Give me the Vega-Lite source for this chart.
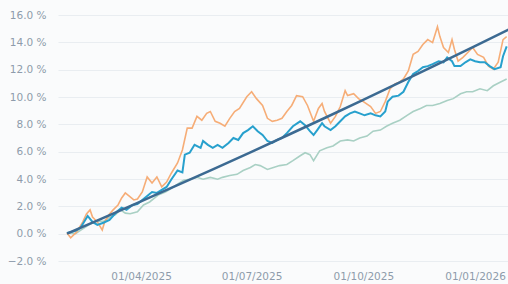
{
  "$schema": "https://vega.github.io/schema/vega-lite/v6.json",
  "width": 450,
  "height": 246,
  "autosize": {"type": "none"},
  "padding": {"left": 58, "top": 15, "right": 0, "bottom": 23},
  "background": "#fafbfc",
  "config": {
    "view": {"stroke": null},
    "axis": {
      "labelFont": "DejaVu Sans",
      "labelFontSize": 10.5,
      "labelColor": "#8e9bab",
      "domain": false,
      "ticks": false,
      "tickSize": 0,
      "title": null
    }
  },
  "datasets": {
    "target": [
      {"date": "2025-01-30", "v": 0},
      {"date": "2025-02-28", "v": 1.12},
      {"date": "2025-03-31", "v": 2.33},
      {"date": "2025-04-30", "v": 3.51},
      {"date": "2025-05-31", "v": 4.74},
      {"date": "2025-06-30", "v": 5.95},
      {"date": "2025-07-31", "v": 7.22},
      {"date": "2025-08-31", "v": 8.5},
      {"date": "2025-09-30", "v": 9.75},
      {"date": "2025-10-31", "v": 11.07},
      {"date": "2025-11-30", "v": 12.35},
      {"date": "2025-12-31", "v": 13.69},
      {"date": "2026-01-30", "v": 15.0}
    ],
    "orange": [
      {"date": "2025-01-30", "v": 0.05},
      {"date": "2025-02-02", "v": -0.3},
      {"date": "2025-02-07", "v": 0.13},
      {"date": "2025-02-12", "v": 0.86},
      {"date": "2025-02-15", "v": 1.44},
      {"date": "2025-02-18", "v": 1.74},
      {"date": "2025-02-20", "v": 1.22},
      {"date": "2025-02-24", "v": 0.86},
      {"date": "2025-02-28", "v": 0.27},
      {"date": "2025-03-02", "v": 0.86},
      {"date": "2025-03-06", "v": 1.44},
      {"date": "2025-03-09", "v": 1.74},
      {"date": "2025-03-13", "v": 2.1},
      {"date": "2025-03-16", "v": 2.61},
      {"date": "2025-03-19", "v": 2.98},
      {"date": "2025-03-23", "v": 2.69},
      {"date": "2025-03-26", "v": 2.47},
      {"date": "2025-03-29", "v": 2.54},
      {"date": "2025-04-02", "v": 3.05},
      {"date": "2025-04-06", "v": 4.15},
      {"date": "2025-04-10", "v": 3.71},
      {"date": "2025-04-14", "v": 4.15},
      {"date": "2025-04-18", "v": 3.42},
      {"date": "2025-04-22", "v": 3.78},
      {"date": "2025-04-26", "v": 4.44},
      {"date": "2025-05-01", "v": 5.17},
      {"date": "2025-05-05", "v": 6.12},
      {"date": "2025-05-09", "v": 7.72},
      {"date": "2025-05-13", "v": 7.72},
      {"date": "2025-05-17", "v": 8.58},
      {"date": "2025-05-21", "v": 8.3},
      {"date": "2025-05-25", "v": 8.8},
      {"date": "2025-05-28", "v": 8.94},
      {"date": "2025-06-01", "v": 8.22},
      {"date": "2025-06-05", "v": 8.08},
      {"date": "2025-06-09", "v": 7.86},
      {"date": "2025-06-13", "v": 8.44},
      {"date": "2025-06-17", "v": 8.94},
      {"date": "2025-06-21", "v": 9.16},
      {"date": "2025-06-27", "v": 10.02},
      {"date": "2025-07-01", "v": 10.38},
      {"date": "2025-07-05", "v": 9.88},
      {"date": "2025-07-10", "v": 9.38},
      {"date": "2025-07-14", "v": 8.44},
      {"date": "2025-07-18", "v": 8.22},
      {"date": "2025-07-22", "v": 8.3},
      {"date": "2025-07-26", "v": 8.44},
      {"date": "2025-07-30", "v": 8.94},
      {"date": "2025-08-03", "v": 9.38},
      {"date": "2025-08-07", "v": 10.1},
      {"date": "2025-08-12", "v": 10.02},
      {"date": "2025-08-16", "v": 9.38},
      {"date": "2025-08-21", "v": 8.22},
      {"date": "2025-08-25", "v": 9.16},
      {"date": "2025-08-28", "v": 9.52},
      {"date": "2025-08-30", "v": 8.94},
      {"date": "2025-09-04", "v": 8.08},
      {"date": "2025-09-08", "v": 8.58},
      {"date": "2025-09-12", "v": 9.3},
      {"date": "2025-09-16", "v": 10.46},
      {"date": "2025-09-18", "v": 10.1},
      {"date": "2025-09-23", "v": 10.24},
      {"date": "2025-09-27", "v": 9.88},
      {"date": "2025-10-01", "v": 9.66},
      {"date": "2025-10-07", "v": 9.3},
      {"date": "2025-10-11", "v": 8.8},
      {"date": "2025-10-15", "v": 8.94},
      {"date": "2025-10-19", "v": 9.66},
      {"date": "2025-10-23", "v": 10.6},
      {"date": "2025-10-27", "v": 10.96},
      {"date": "2025-10-31", "v": 11.1},
      {"date": "2025-11-03", "v": 11.32},
      {"date": "2025-11-07", "v": 11.9},
      {"date": "2025-11-11", "v": 13.12},
      {"date": "2025-11-15", "v": 13.34},
      {"date": "2025-11-19", "v": 13.84},
      {"date": "2025-11-23", "v": 14.2},
      {"date": "2025-11-27", "v": 13.98},
      {"date": "2025-12-01", "v": 15.14},
      {"date": "2025-12-03", "v": 14.42},
      {"date": "2025-12-06", "v": 13.62},
      {"date": "2025-12-10", "v": 13.26},
      {"date": "2025-12-13", "v": 14.2},
      {"date": "2025-12-15", "v": 13.48},
      {"date": "2025-12-18", "v": 12.62},
      {"date": "2025-12-22", "v": 12.9},
      {"date": "2025-12-26", "v": 13.26},
      {"date": "2025-12-30", "v": 13.62},
      {"date": "2026-01-03", "v": 13.12},
      {"date": "2026-01-08", "v": 12.9},
      {"date": "2026-01-12", "v": 12.26},
      {"date": "2026-01-16", "v": 12.04},
      {"date": "2026-01-20", "v": 12.54},
      {"date": "2026-01-24", "v": 14.2},
      {"date": "2026-01-27", "v": 14.42}
    ],
    "blue": [
      {"date": "2025-01-30", "v": 0.05},
      {"date": "2025-02-06", "v": 0.2},
      {"date": "2025-02-10", "v": 0.42},
      {"date": "2025-02-14", "v": 1.0},
      {"date": "2025-02-16", "v": 1.3},
      {"date": "2025-02-20", "v": 0.86},
      {"date": "2025-02-24", "v": 0.64},
      {"date": "2025-03-01", "v": 0.8},
      {"date": "2025-03-06", "v": 1.0},
      {"date": "2025-03-12", "v": 1.6},
      {"date": "2025-03-16", "v": 1.9},
      {"date": "2025-03-20", "v": 1.74},
      {"date": "2025-03-25", "v": 2.1},
      {"date": "2025-03-29", "v": 2.17},
      {"date": "2025-04-02", "v": 2.47},
      {"date": "2025-04-06", "v": 2.76},
      {"date": "2025-04-10", "v": 3.05},
      {"date": "2025-04-14", "v": 2.98},
      {"date": "2025-04-18", "v": 3.2},
      {"date": "2025-04-22", "v": 3.42},
      {"date": "2025-04-26", "v": 3.98},
      {"date": "2025-05-01", "v": 4.62},
      {"date": "2025-05-05", "v": 4.48},
      {"date": "2025-05-07", "v": 5.78},
      {"date": "2025-05-11", "v": 5.92},
      {"date": "2025-05-15", "v": 6.5},
      {"date": "2025-05-20", "v": 6.28},
      {"date": "2025-05-22", "v": 6.78},
      {"date": "2025-05-26", "v": 6.5},
      {"date": "2025-05-30", "v": 6.28},
      {"date": "2025-06-03", "v": 6.5},
      {"date": "2025-06-07", "v": 6.28},
      {"date": "2025-06-12", "v": 6.64},
      {"date": "2025-06-16", "v": 7.0},
      {"date": "2025-06-20", "v": 6.86},
      {"date": "2025-06-24", "v": 7.36},
      {"date": "2025-06-28", "v": 7.58},
      {"date": "2025-07-02", "v": 7.86},
      {"date": "2025-07-06", "v": 7.5},
      {"date": "2025-07-10", "v": 7.22},
      {"date": "2025-07-14", "v": 6.78},
      {"date": "2025-07-18", "v": 6.64},
      {"date": "2025-07-22", "v": 6.86},
      {"date": "2025-07-26", "v": 7.0},
      {"date": "2025-07-30", "v": 7.36},
      {"date": "2025-08-04", "v": 7.86},
      {"date": "2025-08-10", "v": 8.22},
      {"date": "2025-08-14", "v": 7.94},
      {"date": "2025-08-18", "v": 7.5},
      {"date": "2025-08-21", "v": 7.22},
      {"date": "2025-08-24", "v": 7.58},
      {"date": "2025-08-28", "v": 8.08},
      {"date": "2025-08-30", "v": 7.86},
      {"date": "2025-09-04", "v": 7.58},
      {"date": "2025-09-08", "v": 7.86},
      {"date": "2025-09-12", "v": 8.22},
      {"date": "2025-09-16", "v": 8.58},
      {"date": "2025-09-20", "v": 8.8},
      {"date": "2025-09-24", "v": 8.94},
      {"date": "2025-09-28", "v": 8.8},
      {"date": "2025-10-02", "v": 8.66},
      {"date": "2025-10-07", "v": 8.8},
      {"date": "2025-10-11", "v": 8.66},
      {"date": "2025-10-15", "v": 8.58},
      {"date": "2025-10-19", "v": 8.94},
      {"date": "2025-10-21", "v": 9.66},
      {"date": "2025-10-25", "v": 10.02},
      {"date": "2025-10-30", "v": 10.1},
      {"date": "2025-11-03", "v": 10.38},
      {"date": "2025-11-07", "v": 11.1},
      {"date": "2025-11-11", "v": 11.68},
      {"date": "2025-11-15", "v": 11.9},
      {"date": "2025-11-19", "v": 12.18},
      {"date": "2025-11-23", "v": 12.26},
      {"date": "2025-11-27", "v": 12.4},
      {"date": "2025-12-02", "v": 12.62},
      {"date": "2025-12-06", "v": 12.54},
      {"date": "2025-12-09", "v": 12.9},
      {"date": "2025-12-13", "v": 12.62},
      {"date": "2025-12-15", "v": 12.26},
      {"date": "2025-12-20", "v": 12.26},
      {"date": "2025-12-24", "v": 12.54},
      {"date": "2025-12-28", "v": 12.76},
      {"date": "2026-01-01", "v": 12.62},
      {"date": "2026-01-05", "v": 12.54},
      {"date": "2026-01-09", "v": 12.54},
      {"date": "2026-01-13", "v": 12.26},
      {"date": "2026-01-17", "v": 12.04},
      {"date": "2026-01-22", "v": 12.18},
      {"date": "2026-01-24", "v": 12.98},
      {"date": "2026-01-27", "v": 13.7}
    ],
    "green": [
      {"date": "2025-01-30", "v": 0.05},
      {"date": "2025-02-06", "v": 0.0},
      {"date": "2025-02-11", "v": 0.3},
      {"date": "2025-02-18", "v": 0.7},
      {"date": "2025-02-24", "v": 0.9},
      {"date": "2025-03-01", "v": 0.9},
      {"date": "2025-03-06", "v": 1.2},
      {"date": "2025-03-11", "v": 1.4},
      {"date": "2025-03-15", "v": 1.74},
      {"date": "2025-03-19", "v": 1.5},
      {"date": "2025-03-23", "v": 1.46},
      {"date": "2025-03-29", "v": 1.6},
      {"date": "2025-04-03", "v": 2.1},
      {"date": "2025-04-08", "v": 2.32},
      {"date": "2025-04-15", "v": 2.82},
      {"date": "2025-04-21", "v": 3.04},
      {"date": "2025-04-25", "v": 3.26},
      {"date": "2025-05-01", "v": 3.62},
      {"date": "2025-05-06", "v": 3.9},
      {"date": "2025-05-11", "v": 3.98},
      {"date": "2025-05-17", "v": 4.12},
      {"date": "2025-05-22", "v": 3.98},
      {"date": "2025-05-28", "v": 4.12},
      {"date": "2025-06-03", "v": 3.98},
      {"date": "2025-06-07", "v": 4.12},
      {"date": "2025-06-13", "v": 4.26},
      {"date": "2025-06-19", "v": 4.34},
      {"date": "2025-06-24", "v": 4.62},
      {"date": "2025-06-30", "v": 4.84},
      {"date": "2025-07-04", "v": 5.06},
      {"date": "2025-07-08", "v": 4.98},
      {"date": "2025-07-14", "v": 4.7},
      {"date": "2025-07-19", "v": 4.84},
      {"date": "2025-07-24", "v": 4.98},
      {"date": "2025-07-30", "v": 5.06},
      {"date": "2025-08-04", "v": 5.34},
      {"date": "2025-08-10", "v": 5.7},
      {"date": "2025-08-14", "v": 5.92},
      {"date": "2025-08-18", "v": 5.78},
      {"date": "2025-08-21", "v": 5.34},
      {"date": "2025-08-26", "v": 6.06},
      {"date": "2025-09-01", "v": 6.28},
      {"date": "2025-09-06", "v": 6.42},
      {"date": "2025-09-12", "v": 6.78},
      {"date": "2025-09-18", "v": 6.86},
      {"date": "2025-09-23", "v": 6.78},
      {"date": "2025-09-28", "v": 7.0},
      {"date": "2025-10-04", "v": 7.14},
      {"date": "2025-10-09", "v": 7.5},
      {"date": "2025-10-15", "v": 7.58},
      {"date": "2025-10-20", "v": 7.86},
      {"date": "2025-10-25", "v": 8.08},
      {"date": "2025-10-31", "v": 8.3},
      {"date": "2025-11-06", "v": 8.66},
      {"date": "2025-11-11", "v": 8.94},
      {"date": "2025-11-17", "v": 9.16},
      {"date": "2025-11-22", "v": 9.38},
      {"date": "2025-11-27", "v": 9.38},
      {"date": "2025-12-03", "v": 9.52},
      {"date": "2025-12-09", "v": 9.74},
      {"date": "2025-12-14", "v": 9.88},
      {"date": "2025-12-20", "v": 10.24},
      {"date": "2025-12-25", "v": 10.38},
      {"date": "2025-12-30", "v": 10.38},
      {"date": "2026-01-05", "v": 10.6},
      {"date": "2026-01-11", "v": 10.46},
      {"date": "2026-01-16", "v": 10.82},
      {"date": "2026-01-22", "v": 11.1},
      {"date": "2026-01-27", "v": 11.32}
    ]
  },
  "encoding": {
    "x": {
      "field": "date",
      "type": "temporal",
      "scale": {
        "type": "utc",
        "domain": [
          {"year": 2025, "month": 1, "date": 22, "hours": 14, "utc": true},
          {"year": 2026, "month": 1, "date": 28, "hours": 2, "utc": true}
        ]
      },
      "axis": {
        "values": [
          {"year": 2025, "month": 4, "date": 1, "utc": true},
          {"year": 2025, "month": 7, "date": 1, "utc": true},
          {"year": 2025, "month": 10, "date": 1, "utc": true},
          {"year": 2026, "month": 1, "date": 1, "utc": true}
        ],
        "format": "%d/%m/%Y",
        "grid": false,
        "labelPadding": 10,
        "labelFlush": false
      }
    },
    "y": {
      "field": "v",
      "type": "quantitative",
      "scale": {"domain": [-2, 16], "nice": false, "zero": false},
      "axis": {
        "values": [-2, 0, 2, 4, 6, 8, 10, 12, 14, 16],
        "labelExpr": "format(datum.value, '.1f') + ' %'",
        "grid": true,
        "gridColor": "#e9edf1",
        "gridWidth": 1,
        "labelPadding": 12
      }
    }
  },
  "layer": [
    {"data": {"name": "green"}, "mark": {"type": "line", "color": "#a9d0c4", "strokeWidth": 1.6, "clip": true}},
    {"data": {"name": "orange"}, "mark": {"type": "line", "color": "#f6ad77", "strokeWidth": 1.6, "clip": true}},
    {"data": {"name": "blue"}, "mark": {"type": "line", "color": "#27a0cd", "strokeWidth": 2, "clip": true}},
    {"data": {"name": "target"}, "mark": {"type": "line", "color": "#3c6a92", "strokeWidth": 2.5, "clip": true}}
  ]
}
